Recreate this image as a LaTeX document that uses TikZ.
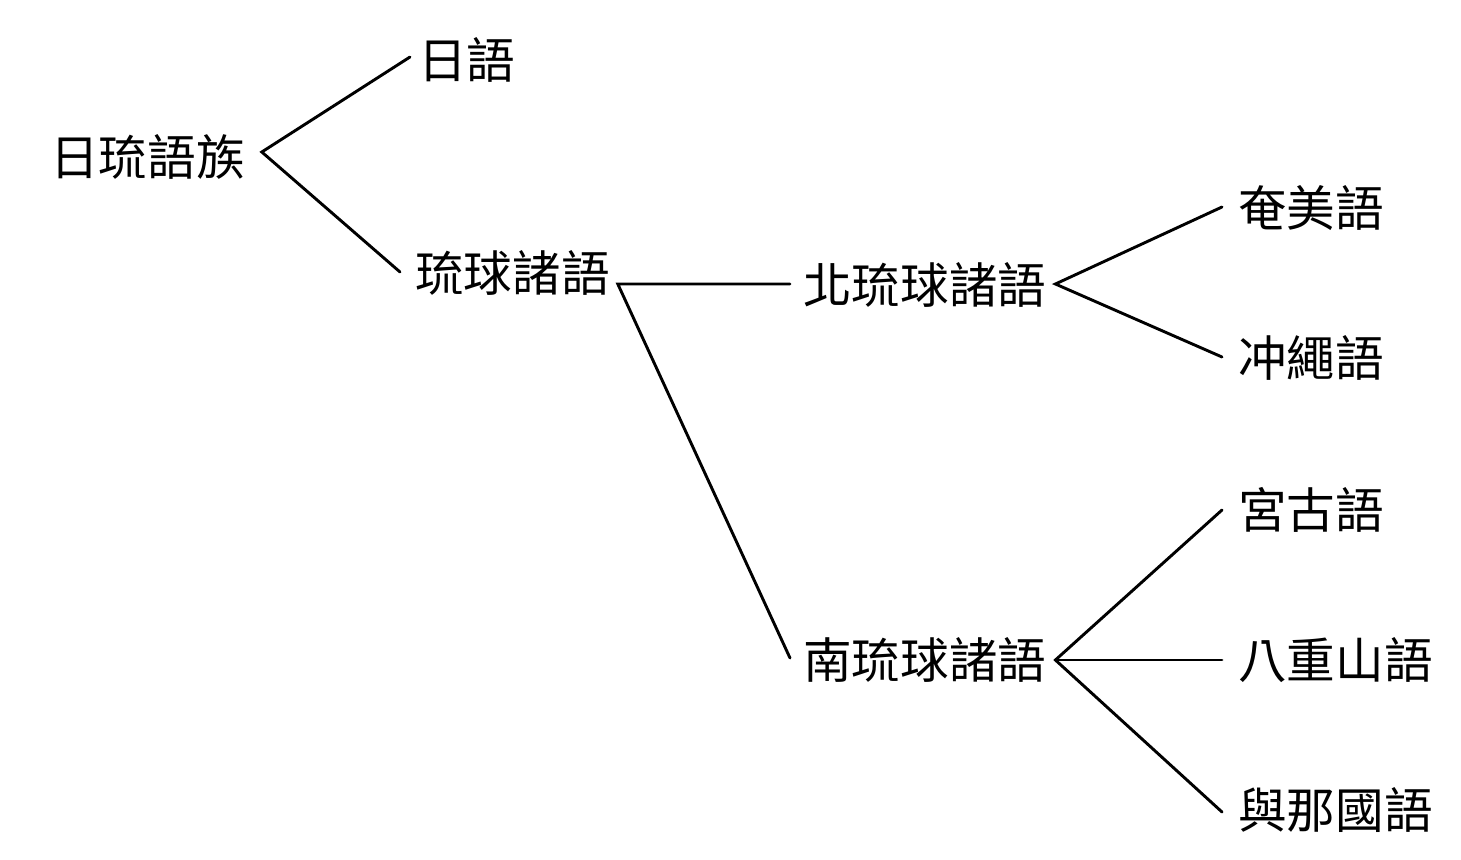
\documentclass[tikz,border=0pt]{standalone}
\usepackage{fontspec}
\newfontfamily\cjkfont{Noto Sans CJK TC}
\usetikzlibrary{positioning}
\tikzset{
  lang/.style={font=\cjkfont\fontsize{48.6}{52}\selectfont,inner sep=0pt,anchor=west},
  branch/.style={line width=2.9pt,line cap=round,black},
}
\begin{document}
\begin{tikzpicture}[x=1pt,y=-1pt]
\useasboundingbox[fill=white] (0,0) rectangle (1461,859);

% ---- levels, left to right ----
\node[lang] (root) at (50,157) {日琉語族};
\node[lang] (ja) at (418,60) {日語};
\node[lang] (ryu) at (415,273) {琉球諸語};
\node[lang] (north) at (803,285) {北琉球諸語};
\node[lang] (south) at (803,660) {南琉球諸語};
\node[lang] (amami) at (1238,208) {奄美語};
\node[lang] (okinawa) at (1238,358) {冲繩語};
\node[lang] (miyako) at (1238,510) {宮古語};
\node[lang] (yaeyama) at (1238,660) {八重山語};
\node[lang] (yonaguni) at (1238,810) {與那國語};

% ---- branches ----
\draw[branch] ([xshift=-8pt,yshift=3pt]ja.west) -- ([xshift=17pt,yshift=5pt]root.east)
  -- ([xshift=-15pt,yshift=1pt]ryu.west);
\draw[branch] ([xshift=-13pt,yshift=1pt]north.west) -- ([xshift=8pt,yshift=-11pt]ryu.east)
  -- ([xshift=-13pt,yshift=2pt]south.west);
\draw[branch] ([xshift=-16pt,yshift=1pt]amami.west) -- ([xshift=9pt,yshift=1pt]north.east)
  -- ([xshift=-16pt,yshift=1pt]okinawa.west);
\draw[branch] ([xshift=-16pt]miyako.west) -- ([xshift=9pt]south.east)
  -- ([xshift=-16pt,yshift=-2pt]yonaguni.west);
\draw[branch] ([xshift=9pt]south.east) -- ([xshift=-16pt]yaeyama.west);

\end{tikzpicture}
\end{document}
